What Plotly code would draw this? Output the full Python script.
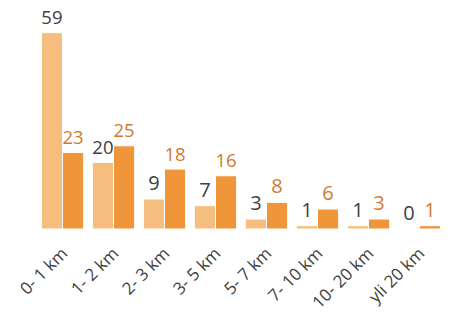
import plotly.graph_objects as go

categories = ["0- 1 km", "1- 2 km", "2- 3 km", "3- 5 km", "5- 7 km", "7- 10 km", "10- 20 km", "yli 20 km"]
series_a = [59, 20, 9, 7, 3, 1, 1, 0]
series_b = [23, 25, 18, 16, 8, 6, 3, 1]

light = "#F5BE7E"
dark = "#F0963A"

fig = go.Figure()
fig.add_trace(go.Bar(
    x=categories, y=series_a, marker=dict(color=light, line=dict(color="white", width=1)),
    text=[str(v) for v in series_a], textposition="outside",
    textfont=dict(color="#404040", size=20, family="Open Sans"), cliponaxis=False,
))
fig.add_trace(go.Bar(
    x=categories, y=series_b, marker=dict(color=dark, line=dict(color="white", width=1)),
    text=[str(v) for v in series_b], textposition="outside",
    textfont=dict(color="#D07A30", size=20, family="Open Sans"), cliponaxis=False,
))
fig.update_layout(
    width=451, height=317,
    margin=dict(l=37, r=6, t=10, b=88, autoexpand=False),
    barmode="group", bargap=0.17, bargroupgap=0.0,
    showlegend=False,
    plot_bgcolor="white", paper_bgcolor="white",
    font=dict(family="Open Sans", color="#404040"),
    uniformtext=dict(mode=False),
)
fig.update_xaxes(showgrid=False, showline=False, ticks="", tickangle=-45,
                 automargin=False, ticklabelstandoff=10,
                 tickfont=dict(size=17, color="#404040"))
fig.update_yaxes(visible=False, range=[0, 65.8], automargin=False)
fig.write_html("out.html", config={"displayModeBar": False},
               post_script="document.body.style.margin='0';")
